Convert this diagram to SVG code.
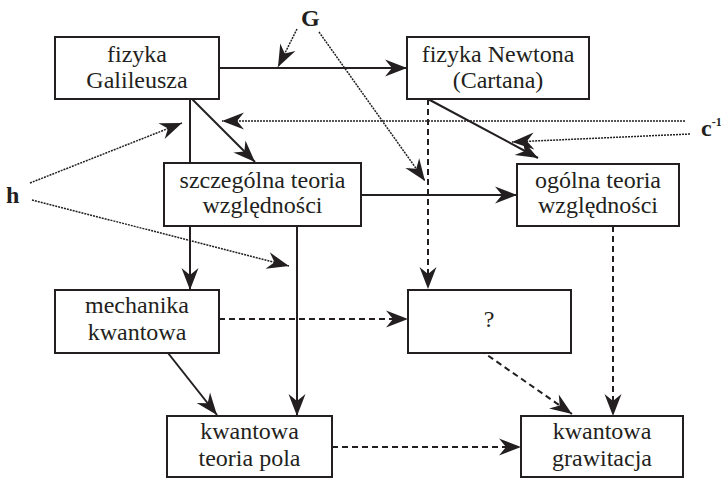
<svg xmlns="http://www.w3.org/2000/svg" width="721" height="478" viewBox="0 0 721 478">
<style>
.box{fill:#fff;stroke:#231f20;stroke-width:2}
.t{font-family:"Liberation Serif","Times New Roman",serif;font-size:24px;fill:#231f20;text-anchor:middle}
.lbl{font-family:"Liberation Serif","Times New Roman",serif;font-size:24px;font-weight:bold;fill:#231f20}
.solid{stroke:#231f20;stroke-width:2;fill:none}
.dash{stroke:#231f20;stroke-width:2;fill:none;stroke-dasharray:6 4}
.dot{stroke:#231f20;stroke-width:1.5;fill:none;stroke-dasharray:2 1}
</style>
<defs>
<marker id="ah" markerUnits="userSpaceOnUse" viewBox="-24 -10 26 20" refX="0" refY="0" markerWidth="26" markerHeight="20" orient="auto">
<path d="M0,0 L-22,-8.5 L-15,0 L-22,8.5 Z" fill="#231f20"/>
</marker>
</defs>
<rect width="721" height="478" fill="#fff"/>
<g id="connectors">
<line class="solid" x1="219" y1="68" x2="407" y2="68" marker-end="url(#ah)"/>
<line class="dot" x1="297" y1="29" x2="278" y2="67" marker-end="url(#ah)"/>
<line class="dot" x1="319" y1="32" x2="425" y2="181" marker-end="url(#ah)"/>
<line class="solid" x1="190" y1="99" x2="190" y2="290" marker-end="url(#ah)"/>
<line class="solid" x1="192" y1="99" x2="255" y2="162" marker-end="url(#ah)"/>
<line class="dot" x1="685" y1="121" x2="222" y2="121" marker-end="url(#ah)"/>
<line class="dot" x1="690" y1="134" x2="512" y2="142" marker-end="url(#ah)"/>
<line class="solid" x1="428" y1="99" x2="538" y2="158" marker-end="url(#ah)"/>
<line class="dash" x1="428" y1="99" x2="428" y2="289" marker-end="url(#ah)"/>
<line class="solid" x1="361" y1="195" x2="517" y2="195" marker-end="url(#ah)"/>
<line class="solid" x1="297" y1="226" x2="297" y2="416" marker-end="url(#ah)"/>
<line class="dot" x1="30" y1="183" x2="182" y2="123" marker-end="url(#ah)"/>
<line class="dot" x1="32" y1="200" x2="289" y2="266" marker-end="url(#ah)"/>
<line class="dash" x1="219" y1="319" x2="408" y2="319" marker-end="url(#ah)"/>
<line class="solid" x1="168" y1="353" x2="217" y2="415" marker-end="url(#ah)"/>
<line class="dash" x1="480" y1="350" x2="572" y2="414" marker-end="url(#ah)"/>
<line class="dash" x1="613" y1="226" x2="613" y2="416" marker-end="url(#ah)"/>
<line class="dash" x1="332" y1="447" x2="521" y2="447" marker-end="url(#ah)"/>
</g>
<g id="galileusz">
<rect class="box" x="55" y="37" width="164" height="62"/>
<text class="t" x="137" y="62">fizyka</text>
<text class="t" x="137" y="88">Galileusza</text>
</g>
<g id="newton">
<rect class="box" x="407" y="37" width="182" height="62"/>
<text class="t" x="498" y="62">fizyka Newtona</text>
<text class="t" x="498" y="88">(Cartana)</text>
</g>
<g id="str">
<rect class="box" x="164" y="163" width="197" height="63"/>
<text class="t" x="262.5" y="188">szczególna teoria</text>
<text class="t" x="262.5" y="213">względności</text>
</g>
<g id="otw">
<rect class="box" x="517" y="164" width="162" height="62"/>
<text class="t" x="598" y="188">ogólna teoria</text>
<text class="t" x="598" y="213">względności</text>
</g>
<g id="mk">
<rect class="box" x="55" y="290" width="164" height="63"/>
<text class="t" x="137" y="313">mechanika</text>
<text class="t" x="137" y="340">kwantowa</text>
</g>
<g id="q">
<rect class="box" x="408" y="290" width="163" height="63"/>
<text class="t" x="489" y="327">?</text>
</g>
<g id="ktp">
<rect class="box" x="167" y="416" width="165" height="61"/>
<text class="t" x="249.5" y="439">kwantowa</text>
<text class="t" x="249.5" y="466">teoria pola</text>
</g>
<g id="kg">
<rect class="box" x="521" y="416" width="162" height="61"/>
<text class="t" x="602" y="439">kwantowa</text>
<text class="t" x="602" y="466">grawitacja</text>
</g>
<g id="labels">
<text class="lbl" x="301" y="26">G</text>
<text class="lbl" x="6" y="203">h</text>
<text class="lbl" x="701" y="136">c<tspan font-size="12" dy="-10">-1</tspan></text>
</g>
</svg>
